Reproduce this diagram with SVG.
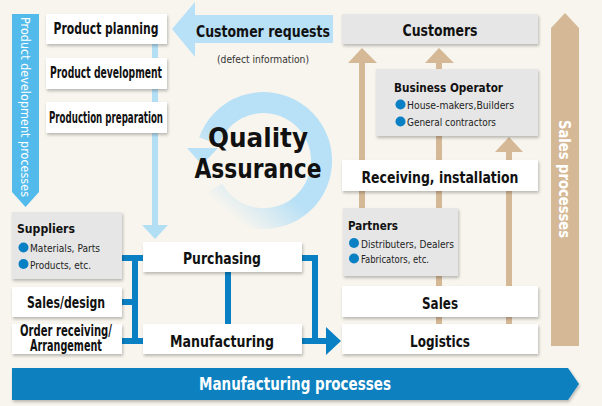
<svg xmlns="http://www.w3.org/2000/svg" width="602" height="406" viewBox="0 0 602 406">
<style>
text{font-family:"Liberation Sans Narrow","DejaVu Sans Condensed","Liberation Sans",sans-serif;fill:#111}
.b{font-weight:bold}
.box{fill:#fff;filter:url(#sh)}
.gbox{fill:#e6e6e6;filter:url(#sh)}
.lbl{font-size:15px;font-weight:bold;text-anchor:middle}
.sm{font-size:11px;fill:#222}
.dot{fill:#0a80c4}
.bl{stroke:#0a80c4;stroke-width:6;fill:none}
.tan{fill:#d5b896}
</style>
<defs>
<filter id="sh" x="-10%" y="-20%" width="130%" height="150%"><feDropShadow dx="1" dy="2" stdDeviation="1.5" flood-color="#000" flood-opacity="0.25"/></filter>
<linearGradient id="rg" x1="0.1" y1="0.9" x2="0.6" y2="0.3"><stop offset="0" stop-color="#b8e0f6" stop-opacity="0"/><stop offset="0.6" stop-color="#b8e0f6"/></linearGradient>
</defs>
<rect width="602" height="406" fill="#f8f5ee"/>

<g id="dev-processes">
<polygon points="12,14 39,14 39,192 25.5,207 12,192" fill="#53bbec"/>
<text transform="translate(21,107) rotate(90)" text-anchor="middle" font-size="13" style="fill:#fff" textLength="180" lengthAdjust="spacingAndGlyphs">Product development processes</text>
</g>

<g id="sales-processes">
<polygon points="551,28 565,13 579,28 579,346 551,346" class="tan"/>
<text transform="translate(559,179) rotate(90)" text-anchor="middle" font-size="16" class="b" style="fill:#fff" textLength="118" lengthAdjust="spacingAndGlyphs">Sales processes</text>
</g>

<g id="mfg-processes">
<polygon points="12,368 568,368 579,384 568,400 12,400" fill="#0a80c0" filter="url(#sh)"/>
<text x="295" y="390" text-anchor="middle" font-size="17" class="b" style="fill:#fff" textLength="192" lengthAdjust="spacingAndGlyphs">Manufacturing processes</text>
</g>

<g id="quality-assurance">
<path d="M213,189 A58,58 0 1 0 209,141" fill="none" stroke="url(#rg)" stroke-width="21"/>
<polygon points="187,148 218,148 202,165" fill="#b8e0f6"/>
<text x="258" y="147" text-anchor="middle" font-size="27" class="b" textLength="100" lengthAdjust="spacingAndGlyphs">Quality</text>
<text x="258" y="178" text-anchor="middle" font-size="27" class="b" textLength="127" lengthAdjust="spacingAndGlyphs">Assurance</text>
</g>

<g id="connectors">
<rect x="152" y="44" width="6" height="183" fill="#b3dff5"/>
<polygon points="142,225 168,225 155,239" fill="#b3dff5"/>
<path class="bl" d="M122,258 H143 M135,258 V341 M122,302 H135 M122,341 H143 M228,272 V324 M302,258 H315 V341 M302,341 H328"/>
<polygon points="326,327 341,341 326,355" fill="#0a80c4"/>
<g class="tan">
<rect x="359" y="60" width="6" height="150"/>
<polygon points="348,63 362,48 377,63"/>
<rect x="436" y="60" width="6" height="265"/>
<polygon points="425,63 439,48 454,63"/>
<rect x="506" y="148" width="6" height="177"/>
<polygon points="495,152 509,137 523,152"/>
</g>
</g>

<g id="customer-requests">
<polygon points="172,29 195,2 195,15 333,15 333,43 195,43 195,57" fill="#b8e0f6"/>
<text x="263" y="37" class="lbl" font-size="17" textLength="134" lengthAdjust="spacingAndGlyphs">Customer requests</text>
<text x="263" y="63" text-anchor="middle" font-size="10" style="fill:#333" textLength="92" lengthAdjust="spacingAndGlyphs">(defect information)</text>
</g>

<g id="product-planning"><rect class="box" x="46" y="14" width="121" height="30"/><text x="106" y="34" class="lbl" font-size="14" textLength="105" lengthAdjust="spacingAndGlyphs">Product planning</text></g>
<g id="product-development"><rect class="box" x="46" y="58" width="121" height="31"/><text x="106" y="78" class="lbl" font-size="13" textLength="112" lengthAdjust="spacingAndGlyphs">Product development</text></g>
<g id="production-preparation"><rect class="box" x="46" y="102" width="121" height="31"/><text x="106" y="123" class="lbl" font-size="13" textLength="114" lengthAdjust="spacingAndGlyphs">Production preparation</text></g>

<g id="customers"><rect class="gbox" x="342" y="14" width="196" height="30"/><text x="440" y="36" class="lbl" font-size="16" textLength="75" lengthAdjust="spacingAndGlyphs">Customers</text></g>

<g id="business-operator"><rect class="gbox" x="376" y="69" width="162" height="67"/>
<text x="394" y="92" font-size="13" class="b" textLength="109" lengthAdjust="spacingAndGlyphs">Business Operator</text>
<circle class="dot" cx="400.5" cy="104.5" r="5"/><text x="407" y="109" class="sm" textLength="107" lengthAdjust="spacingAndGlyphs">House-makers,Builders</text>
<circle class="dot" cx="400.5" cy="121.5" r="5"/><text x="407" y="126" class="sm" textLength="89" lengthAdjust="spacingAndGlyphs">General contractors</text>
</g>

<g id="receiving-installation"><rect class="box" x="342" y="160" width="196" height="31"/><text x="440" y="183" class="lbl" font-size="16" textLength="157" lengthAdjust="spacingAndGlyphs">Receiving, installation</text></g>

<g id="partners"><rect class="gbox" x="343" y="208" width="115" height="68"/>
<text x="348" y="230" font-size="13" class="b" textLength="50" lengthAdjust="spacingAndGlyphs">Partners</text>
<circle class="dot" cx="354" cy="243" r="5"/><text x="361" y="248" class="sm" textLength="93" lengthAdjust="spacingAndGlyphs">Distributers, Dealers</text>
<circle class="dot" cx="354" cy="258.5" r="5"/><text x="361" y="263" class="sm" textLength="68" lengthAdjust="spacingAndGlyphs">Fabricators, etc.</text>
</g>

<g id="sales"><rect class="box" x="342" y="286" width="196" height="31"/><text x="440" y="309" class="lbl" font-size="16" textLength="36" lengthAdjust="spacingAndGlyphs">Sales</text></g>
<g id="logistics"><rect class="box" x="342" y="324" width="196" height="30"/><text x="440" y="347" class="lbl" font-size="16" textLength="60" lengthAdjust="spacingAndGlyphs">Logistics</text></g>

<g id="suppliers"><rect class="gbox" x="12" y="212" width="110" height="67"/>
<text x="17" y="233" font-size="13" class="b" textLength="58" lengthAdjust="spacingAndGlyphs">Suppliers</text>
<circle class="dot" cx="23.5" cy="247.5" r="5"/><text x="30" y="252" class="sm" textLength="70" lengthAdjust="spacingAndGlyphs">Materials, Parts</text>
<circle class="dot" cx="23.5" cy="264" r="5"/><text x="30" y="268.5" class="sm" textLength="61" lengthAdjust="spacingAndGlyphs">Products, etc.</text>
</g>

<g id="sales-design"><rect class="box" x="12" y="287" width="110" height="30"/><text x="66" y="308" class="lbl" font-size="14" textLength="78" lengthAdjust="spacingAndGlyphs">Sales/design</text></g>
<g id="order-receiving"><rect class="box" x="12" y="324" width="110" height="30"/>
<text x="66" y="336" class="lbl" font-size="10" textLength="92" lengthAdjust="spacingAndGlyphs">Order receiving/</text>
<text x="66" y="350.5" class="lbl" font-size="10" textLength="72" lengthAdjust="spacingAndGlyphs">Arrangement</text>
</g>

<g id="purchasing"><rect class="box" x="143" y="242" width="159" height="30"/><text x="222" y="264" class="lbl" font-size="16" textLength="78" lengthAdjust="spacingAndGlyphs">Purchasing</text></g>
<g id="manufacturing"><rect class="box" x="143" y="324" width="159" height="30"/><text x="222" y="347" class="lbl" font-size="16" textLength="104" lengthAdjust="spacingAndGlyphs">Manufacturing</text></g>
</svg>
